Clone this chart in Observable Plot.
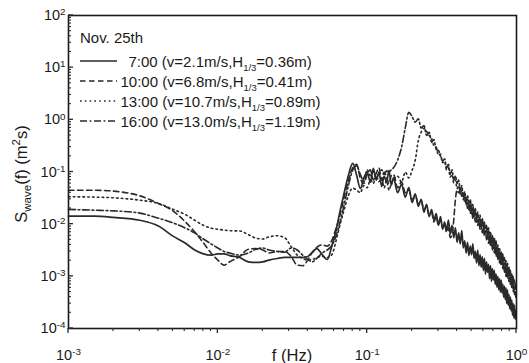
<!DOCTYPE html>
<html><head><meta charset="utf-8">
<script src="https://cdn.jsdelivr.net/npm/d3@7"></script>
<script src="https://cdn.jsdelivr.net/npm/@observablehq/plot@0.6"></script>
<style>body{margin:0;background:#fff} #chart{width:529px;height:363px}</style>
</head><body><div id="chart"></div>
<script>
// ---- data ----
const seriesNames = ["7:00", "10:00", "13:00", "16:00"];
const windSpeed = ["2.1", "6.8", "10.7", "13.0"];
const waveHeight = ["0.36", "0.41", "0.89", "1.19"];
const dayLabel = "Nov. 25th";

const fLow = [0.001,0.0015,0.002,0.003,0.004,0.005,0.006,0.007,0.008,0.009,
  0.01,0.011,0.012,0.014,0.016,0.018,0.02,0.022,0.025,0.028,
  0.031,0.034,0.037,0.04,0.043,0.046,0.05,0.054,0.058,0.062,
  0.065,0.07,0.075,0.08];
const fMid = [0.085,0.09,0.095,0.1,0.105,0.11,0.115,0.12,0.125,0.13,0.135,0.14,0.145];
const fHigh = [0.15,0.16,0.17,0.18,0.19,0.20,0.21,0.22,0.23,0.24,
  0.25,0.26,0.27,0.28,0.29,0.30,0.31,0.32,0.33,0.34,
  0.35,0.36,0.37,0.38,0.39,0.40,0.41,0.42,0.43,0.44,
  0.45,0.46,0.47,0.48,0.49,0.50,0.51,0.52,0.53,0.54,
  0.55,0.56,0.57,0.58,0.59,0.60,0.61,0.62,0.63,0.64,
  0.65,0.66,0.67,0.68,0.69,0.70,0.71,0.72,0.73,0.74,
  0.75,0.76,0.77,0.78,0.79,0.80,0.81,0.82,0.83,0.84,
  0.85,0.86,0.87,0.88,0.89,0.90,0.91,0.92,0.93,0.94,
  0.95,0.96,0.97,0.98,0.99];

// 7:00
const s0700Low = [0.0142,0.0142,0.0135,0.0119,0.0092,0.0059,0.0044,0.0032,0.0027,0.00255,
  0.0027,0.0027,0.0025,0.0023,0.0019,0.00185,0.0019,0.00205,0.0022,0.0023,
  0.0023,0.0023,0.0023,0.0024,0.0029,0.0034,0.0026,0.0021,0.0038,0.0077,
  0.015,0.039,0.088,0.146];
const s0700Mid = [0.087,0.048,0.077,0.1,0.064,0.118,0.07,0.1,0.053,0.083,0.064,0.108,0.056];
const s0700High = [0.077,0.04,0.058,0.033,0.05,0.026,0.038,0.022,0.03,0.017,
  0.024,0.014,0.019,0.012,0.016,0.0095,0.014,0.008,0.011,0.0075,
  0.012,0.0065,0.0095,0.0055,0.0085,0.0045,0.0068,0.0042,0.0075,0.0035,
  0.0048,0.0028,0.0045,0.0025,0.0038,0.0026,0.0042,0.0022,0.003,0.0018,
  0.0032,0.0016,0.0026,0.0015,0.0024,0.0013,0.0022,0.0011,0.0019,0.0012,
  0.0017,0.0009,0.0016,0.0008,0.0014,0.00085,0.0013,0.0007,0.0011,0.00062,
  0.001,0.00055,0.0009,0.0005,0.00085,0.00048,0.0007,0.0004,0.00065,0.00036,
  0.0006,0.0003,0.00055,0.00028,0.00045,0.00024,0.0004,0.00022,0.00035,0.00018,
  0.0003,0.00016,0.00028,0.00015,0.00022];

// 10:00
const s1000Low = [0.0447,0.0447,0.043,0.035,0.025,0.018,0.0114,0.0071,0.0044,0.0028,
  0.00205,0.00164,0.0019,0.0024,0.0033,0.0034,0.0032,0.0028,0.003,0.003,
  0.0024,0.00164,0.0016,0.00205,0.0029,0.0036,0.004,0.0038,0.0049,0.0085,
  0.0132,0.032,0.07,0.12];
const s1000Mid = [0.14,0.075,0.06,0.09,0.11,0.07,0.095,0.12,0.07,0.1,0.08,0.06,0.085];
const s1000High = [0.09,0.05,0.065,0.04,0.045,0.03,0.035,0.025,0.028,0.019,
  0.022,0.015,0.017,0.011,0.014,0.0095,0.012,0.0085,0.01,0.007,
  0.0085,0.0055,0.0065,0.012,0.03,0.045,0.04,0.048,0.034,0.038,
  0.026,0.03,0.02,0.025,0.016,0.02,0.013,0.017,0.011,0.014,
  0.0095,0.012,0.008,0.01,0.0068,0.0085,0.0058,0.0075,0.005,0.0064,
  0.0043,0.0056,0.0037,0.0048,0.0032,0.0042,0.0028,0.0036,0.0024,0.0031,
  0.0021,0.0027,0.0018,0.0023,0.0016,0.002,0.0014,0.0017,0.0012,0.0015,
  0.001,0.0013,0.0009,0.0011,0.0008,0.00095,0.0007,0.00085,0.0006,0.00072,
  0.00052,0.00062,0.00045,0.00054,0.0004];

// 13:00
const s1300Low = [0.0335,0.033,0.032,0.0288,0.025,0.0193,0.0155,0.0119,0.0095,0.0084,
  0.008,0.0077,0.0075,0.0074,0.0063,0.0054,0.0052,0.0057,0.006,0.0055,
  0.0037,0.00255,0.0022,0.00205,0.0021,0.0023,0.0024,0.0023,0.0026,0.0049,
  0.0085,0.0185,0.036,0.049];
const s1300Mid = [0.045,0.04,0.055,0.05,0.07,0.06,0.085,0.065,0.075,0.05,0.068,0.045,0.06];
const s1300High = [0.07,0.083,0.064,0.1,0.077,0.108,0.17,0.4,0.58,0.69,
  0.6,0.5,0.44,0.32,0.3,0.21,0.22,0.15,0.16,0.11,
  0.12,0.08,0.09,0.062,0.07,0.048,0.055,0.038,0.044,0.03,
  0.035,0.023,0.03,0.019,0.024,0.016,0.02,0.013,0.017,0.011,
  0.014,0.0095,0.012,0.008,0.011,0.0072,0.0092,0.0062,0.008,0.0053,
  0.0068,0.0045,0.006,0.0038,0.005,0.0033,0.0043,0.0028,0.0037,0.0024,
  0.0032,0.0021,0.0028,0.0018,0.0024,0.0016,0.0021,0.0014,0.0018,0.0012,
  0.0016,0.001,0.0014,0.0009,0.0012,0.0008,0.001,0.0007,0.0009,0.0006,
  0.00075,0.0005,0.00065,0.00042,0.00055];

// 16:00
const s1600Low = [0.0192,0.0185,0.018,0.0163,0.013,0.0106,0.0085,0.0068,0.0052,0.0042,
  0.0035,0.003,0.0028,0.00255,0.0028,0.0033,0.0035,0.0032,0.003,0.0029,
  0.0035,0.0032,0.00255,0.0021,0.0019,0.0022,0.0028,0.0032,0.0039,0.006,
  0.0096,0.023,0.056,0.108];
const s1600Mid = [0.13,0.09,0.065,0.11,0.085,0.1,0.075,0.095,0.11,0.09,0.105,0.1,0.11];
const s1600High = [0.12,0.17,0.3,0.7,1.4,1.15,0.9,1.05,0.7,0.78,
  0.5,0.58,0.37,0.42,0.27,0.26,0.2,0.16,0.18,0.12,
  0.14,0.09,0.11,0.07,0.085,0.06,0.07,0.045,0.055,0.035,
  0.042,0.028,0.036,0.022,0.03,0.019,0.024,0.015,0.02,0.013,
  0.017,0.011,0.015,0.0095,0.013,0.0085,0.011,0.0072,0.0095,0.0062,
  0.0085,0.0055,0.0072,0.0045,0.0062,0.0042,0.0055,0.0035,0.0048,0.003,
  0.004,0.0026,0.0035,0.0022,0.003,0.002,0.0027,0.0017,0.0023,0.0015,
  0.002,0.0013,0.0018,0.0011,0.0015,0.001,0.0013,0.0009,0.0011,0.00075,
  0.001,0.00065,0.00085,0.00055,0.0007];

const xMajor = [1e-3, 1e-2, 1e-1, 1];
const yMajor = [1e-4, 1e-3, 1e-2, 1e-1, 1, 10, 100];

// ---- build ----
const fAll = fLow.concat(fMid, fHigh);
function table(name, low, mid, high) {
  const s = low.concat(mid, high);
  return fAll.map((f, i) => ({f, S: s[i], series: name}));
}
const data = [
  table("7:00", s0700Low, s0700Mid, s0700High),
  table("10:00", s1000Low, s1000Mid, s1000High),
  table("13:00", s1300Low, s1300Mid, s1300High),
  table("16:00", s1600Low, s1600Mid, s1600High)
];
const dashes = [null, "5.5,3.5", "1.6,3.2", "7,2.6,1.8,2.6"];
const ink = "#2a2a2a";

function minors(majors) {
  const out = [];
  for (let i = 0; i < majors.length - 1; i++) for (let k = 2; k <= 9; k++) out.push(majors[i] * k);
  return out;
}
const xMinor = minors(xMajor), yMinor = minors(yMajor);

const W = 529, H = 363, mL = 68, mR = 13, mT = 15, mB = 35;
const fmt = d => "10^" + Math.round(Math.log10(d));
const font = "'Liberation Sans', Arial, sans-serif";

const lineMarks = data.map((d, i) => Plot.line(d, {
  x: "f", y: "S", stroke: ink, strokeWidth: i === 0 ? 1.7 : 1.6,
  strokeDasharray: dashes[i], curve: "monotone-x"
}));

const chart = Plot.plot({
  width: W, height: H,
  marginLeft: mL, marginRight: mR, marginTop: mT, marginBottom: mB,
  style: {fontFamily: font, fontSize: "14.5px", color: "#1a1a1a", background: "#fff", overflow: "visible"},
  x: {type: "log", domain: [1e-3, 1], ticks: xMajor, tickFormat: fmt, tickSize: 0, tickPadding: 21, label: null},
  y: {type: "log", domain: [1e-4, 1e2], ticks: yMajor, tickFormat: fmt, tickSize: 0, tickPadding: 3, label: null},
  marks: [
    ...lineMarks,
    Plot.frame({stroke: "#1a1a1a", strokeWidth: 1.6})
  ]
});
document.getElementById("chart").appendChild(chart);

const svg = d3.select(chart);
// superscript exponents in tick labels
svg.selectAll("text").each(function () {
  const m = /^10\^(-?\d+)$/.exec(this.textContent.trim());
  if (!m) return;
  const t = d3.select(this);
  t.text("");
  t.append("tspan").text("10");
  t.append("tspan").attr("dy", "-0.5em").attr("font-size", "0.68em").text(m[1]);
});

// tick marks drawn from the plot's own scales
const xs = chart.scale("x"), ys = chart.scale("y");
const bottom = H - mB, left = mL;
const tg = svg.append("g").attr("stroke", ink);
xMajor.forEach(v => { const x = xs.apply(v); tg.append("line").attr("x1", x).attr("x2", x).attr("y1", bottom).attr("y2", bottom + 5).attr("stroke-width", 1.3); });
xMinor.forEach(v => { const x = xs.apply(v); tg.append("line").attr("x1", x).attr("x2", x).attr("y1", bottom).attr("y2", bottom + 3).attr("stroke-width", 1.1); });
yMajor.forEach(v => { const y = ys.apply(v); tg.append("line").attr("x1", left).attr("x2", left + 5).attr("y1", y).attr("y2", y).attr("stroke-width", 1.3); });
yMinor.forEach(v => { const y = ys.apply(v); tg.append("line").attr("x1", left).attr("x2", left + 3).attr("y1", y).attr("y2", y).attr("stroke-width", 1.1); });

// axis titles
svg.append("text").attr("x", 292).attr("y", 361).attr("text-anchor", "middle")
  .attr("font-family", font).attr("font-size", 16.5).attr("fill", "#1a1a1a").text("f (Hz)");
const yl = svg.append("text").attr("transform", "translate(27,174) rotate(-90)")
  .attr("text-anchor", "middle").attr("font-family", font).attr("font-size", 16.5).attr("fill", "#1a1a1a");
yl.append("tspan").text("S");
yl.append("tspan").attr("font-size", 11.5).attr("dy", 4).text("wave");
yl.append("tspan").attr("dy", -4).text("(f) (m");
yl.append("tspan").attr("font-size", 11.5).attr("dy", -7).text("2");
yl.append("tspan").attr("dy", 7).text("s)");

// legend
const lg = svg.append("g").attr("font-family", font).attr("font-size", 15).attr("fill", "#1a1a1a")
  .attr("text-anchor", "start");
lg.append("text").attr("x", 80).attr("y", 43).text(dayLabel);
seriesNames.forEach((name, i) => {
  const cy = 61 + i * 20;
  lg.append("line").attr("x1", 80).attr("x2", 117).attr("y1", cy).attr("y2", cy)
    .attr("stroke", ink).attr("stroke-width", i === 0 ? 1.7 : 1.6)
    .attr("stroke-dasharray", dashes[i]);
  const t = lg.append("text").attr("x", i === 0 ? 128.5 : 120.5).attr("y", cy + 5.5);
  t.append("tspan").text(`${name} (v=${windSpeed[i]}m/s,H`);
  t.append("tspan").attr("font-size", 9.5).attr("dy", 4).text("1/3");
  t.append("tspan").attr("dy", -4).text(`=${waveHeight[i]}m)`);
});
</script>
</body></html>
